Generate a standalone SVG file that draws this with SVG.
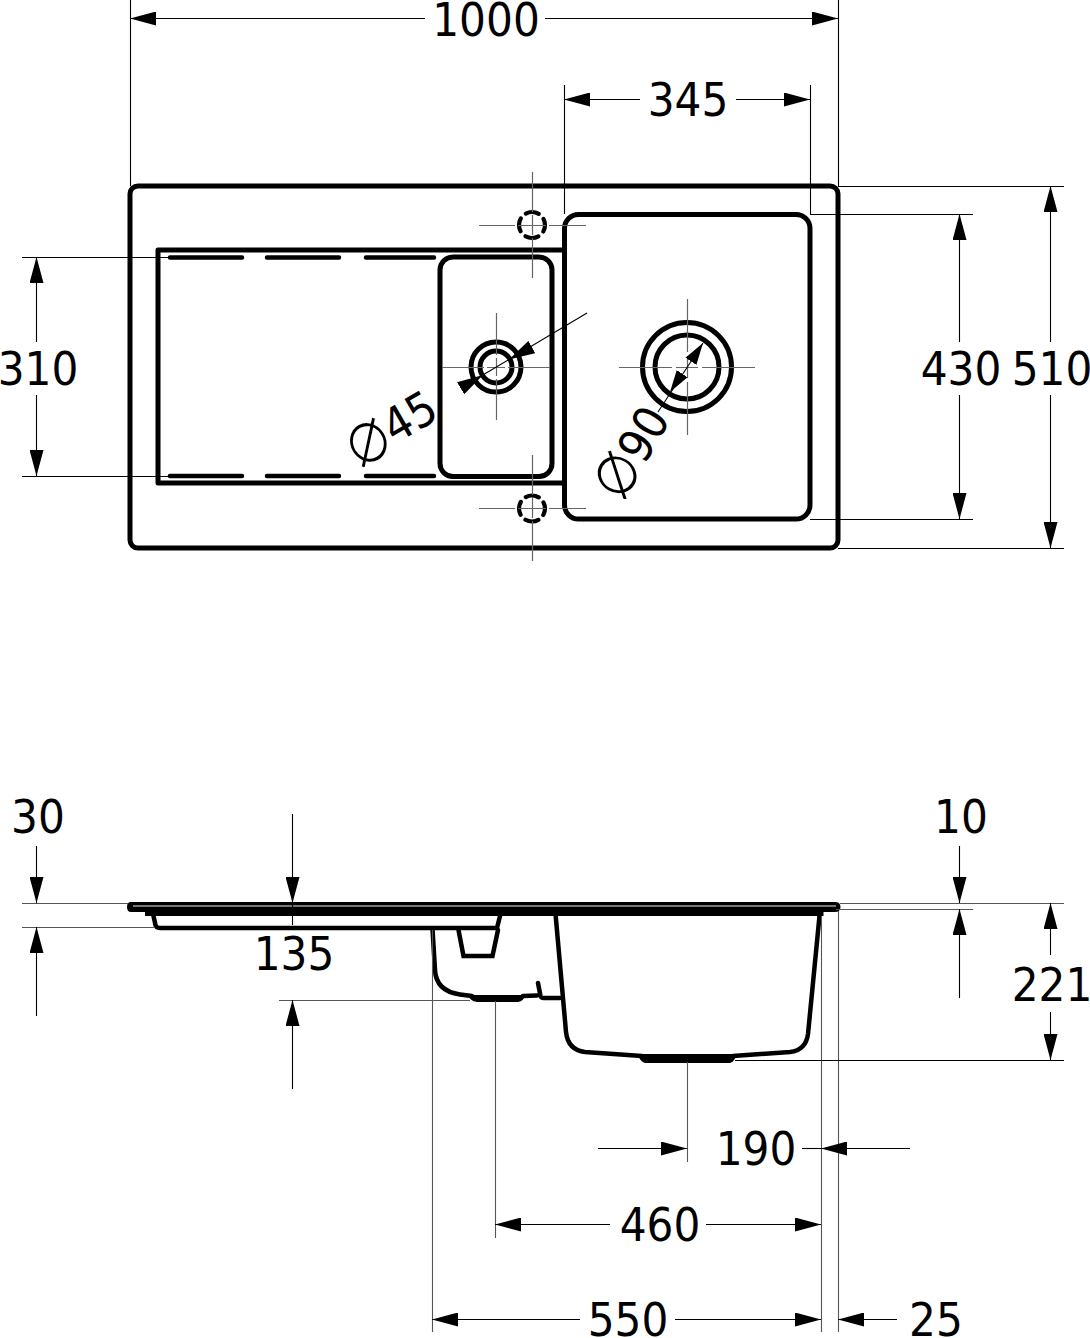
<svg xmlns="http://www.w3.org/2000/svg" width="1090" height="1338" viewBox="0 0 1090 1338">
<style>
text{font-family:"DejaVu Sans","Liberation Sans",sans-serif;font-stretch:condensed;font-size:47px;fill:#000;text-anchor:middle}
.phi{font-size:80px;stroke:#fff;stroke-width:2.2}
.o{fill:none;stroke:#000;stroke-width:5;stroke-linejoin:round;stroke-linecap:round}
.s{fill:none;stroke:#000;stroke-width:4.5;stroke-linecap:round}
.c{fill:none;stroke:#666;stroke-width:1.2}
.d{fill:none;stroke:#000;stroke-width:1.1;marker-end:url(#a)}
.l{fill:none;stroke:#000;stroke-width:1.1}
.e{fill:none;stroke:#555;stroke-width:1.1}
.m{stroke-dasharray:13.5 6.9;stroke-dashoffset:6.75;stroke-width:4.2}
</style>
<defs>
<marker id="a" markerUnits="userSpaceOnUse" markerWidth="26" markerHeight="14" refX="26" refY="7" orient="auto"><path d="M0 0L26 7L0 14Z" fill="#000"/></marker>
<marker id="b" markerUnits="userSpaceOnUse" markerWidth="22" markerHeight="14" refX="22" refY="7" orient="auto"><path d="M0 0.5L22 7L0 13.5Z" fill="#000"/></marker>
</defs>
<rect width="1090" height="1338" fill="#fff"/>
<g id="plan-view">
<rect id="worktop" class="o" x="130" y="186" width="708" height="362" rx="8"/>
<path id="drainer" class="o" d="M563 250H158V483H563"/>
<g id="slots">
<path class="s" d="M170 257.500H242M267 257.500H339M366 257.500H434M170 476H242M267 476H339M366 476H434"/>
</g>
<rect id="small-bowl" class="o" x="440" y="257" width="112" height="219.500" rx="13"/>
<rect id="large-bowl" class="o" x="564.500" y="214.500" width="245.500" height="304.500" rx="14"/>
<g id="tap-holes">
<circle class="o m" cx="532" cy="225" r="13"/>
<circle class="o m" cx="532" cy="508.500" r="13"/>
</g>
<g id="small-drain">
<circle class="o" cx="496" cy="367" r="25"/>
<circle class="o" cx="496" cy="367" r="16"/>
</g>
<g id="large-drain">
<circle class="o" cx="687" cy="367" r="44.500"/>
<circle class="o" cx="687" cy="367" r="32"/>
</g>
</g>
<g id="centre-lines">
<path class="c" d="M532.500 172V212M532.500 215V235M532.500 238V278M479 225.500H515M518 225.500H546M549 225.500H586"/>
<path class="c" d="M532.500 455V495M532.500 498V518M532.500 521V561M479 508.500H515M518 508.500H546M549 508.500H586"/>
<path class="c" d="M496.500 313V355M496.500 358V376M496.500 379V420M442 367.500H484M487 367.500H505M508 367.500H550"/>
<path class="c" d="M687.500 299V352M687.500 356V378M687.500 382V435M619 367.500H672M676 367.500H698M702 367.500H755"/>
</g>
<g id="section-view">
<path id="rim" fill="#000" d="M131 902H835Q840.500 902 840.500 907Q840.500 912 835 912H823.500V916H145V912H131Q127 912 127 907Q127 902 131 902Z"/>
<path d="M133 906H836" stroke="#eee" stroke-width="1" fill="none"/>
<path id="drainer-section" class="s" d="M153.500 916L155.500 925Q156 928 160 928H497L500 916"/>
<path id="small-bowl-section" class="s" d="M432.500 929L435 970Q436 991 460 994.500L472 996M523 996L537 995.500M538 983L540.500 996Q541 998 544 998H560"/>
<path class="s" d="M458.500 930L463.500 956H492.500L498 930"/>
<path id="small-drain-section" fill="#000" d="M468 995H525Q524 1001 518 1002H477Q470 1001 468 995Z"/>
<path id="large-bowl-section" class="s" d="M555.700 916L566 1032Q568 1050 585 1052L642 1056M733 1056L790 1052Q806 1050 808 1034L819.500 916"/>
<path id="large-drain-section" fill="#000" d="M638 1054H736Q735 1062 730 1063H645Q640 1062 638 1054Z"/>
</g>
<g id="connectors">
<path class="l" d="M130.500 0V186M838.500 0V186M564.500 85V214M810.500 85V214M810 214.500H973M810 519.500H973M838 186.500H1064M838 548.500H1064M22 257.500H168M22 476.500H168"/>
<path class="d" d="M425 18.500H130"/><path class="d" d="M545 18.500H838"/>
<path class="d" d="M640 99.500H564"/><path class="d" d="M736 99.500H810"/>
<path class="d" d="M959.500 342V214"/><path class="d" d="M959.500 395V519"/>
<path class="d" d="M1050.500 342V186"/><path class="d" d="M1050.500 395V548"/>
<path class="d" d="M36.500 342V257"/><path class="d" d="M36.500 395V476"/>
<path class="l" d="M587 313L461 388"/>
<path class="d" d="M553 335.500L509 359.500" style="stroke:none"/>
<path class="d" d="M461 388L483 375" style="stroke:none"/>
<path class="l" d="M703 343L658 412"/>
<path d="M680 378L703 343" fill="none" stroke="none" marker-end="url(#b)"/>
<path d="M694 356L670 392" fill="none" stroke="none" marker-end="url(#b)"/>
<path class="e" d="M22 903.500H128M840 903.500H1064M22 927.500H155M836 909.500H973M279 1000.500H470M432.500 930V1332M495.500 1001V1238M687.500 1062V1162M821.500 916V1332M838.500 911V1332"/>
<path class="l" d="M735 1060.500H1064"/>
<path class="d" d="M36.500 846V903"/><path class="d" d="M36.500 1016V927"/>
<path class="d" d="M959.500 846V903"/><path class="d" d="M959.500 998V909"/>
<path class="d" d="M292.500 814V903"/><path class="l" d="M292.500 903V925"/><path class="d" d="M292.500 1089V1000"/>
<path class="d" d="M1050.500 955V903"/><path class="d" d="M1050.500 1012V1060"/>
<path class="d" d="M598 1148.500H687"/><path class="d" d="M910 1148.500H821"/><path class="l" d="M802 1148.500H821"/>
<path class="d" d="M610 1224.500H495"/><path class="d" d="M706 1224.500H821"/>
<path class="d" d="M580 1319.500H432"/><path class="d" d="M675 1319.500H821"/>
<path class="d" d="M897 1319.500H838"/>
</g>
<g id="labels">
<text x="486" y="36">1000</text>
<text x="688" y="116">345</text>
<text x="961" y="385">430</text>
<text x="1052" y="385">510</text>
<text x="38" y="385">310</text>
<text x="38" y="833">30</text>
<text x="961" y="833">10</text>
<text x="294" y="970">135</text>
<text x="1052" y="1001">221</text>
<text x="756" y="1165">190</text>
<text x="660" y="1241">460</text>
<text x="628" y="1336">550</text>
<text x="936" y="1336">25</text>
<text transform="translate(391 428) rotate(-30)" y="16"><tspan class="phi" dy="5">⌀</tspan><tspan dy="-5">45</tspan></text>
<text transform="translate(633 453) rotate(-60)" y="16"><tspan class="phi" dy="1">⌀</tspan><tspan dy="-1">90</tspan></text>
</g>
</svg>
